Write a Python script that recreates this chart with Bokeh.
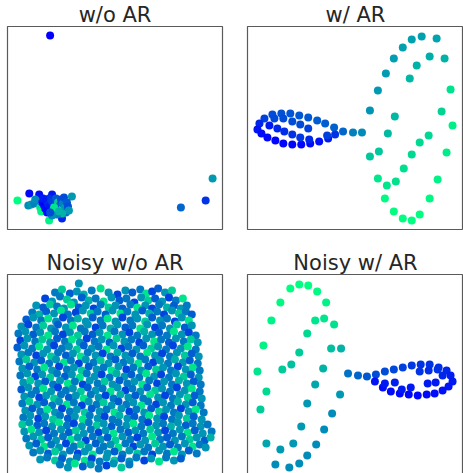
from bokeh.plotting import figure
from bokeh.layouts import row, column
from bokeh.models import Range1d, LinearColorMapper
from bokeh.embed import file_html
from bokeh.resources import INLINE

# ---------------- data (positions, y downwards) ----------------
titles = ["w/o AR", "w/ AR", "Noisy w/o AR", "Noisy w/ AR"]

# panel 1: w/o AR   (x, y, colour value 0..1)
wo_ar = [(50,35,0.0),(29,193,0.02),(39,194,0.05),(17,200,1.0),(52,194,0.1),(72,196,0.6),
         (182,207,0.4),(207,200,0.2),(214,178,0.6),(49,220,0.95),(62,218,0.15),
         (28,205,0.55),(31,204,0.6),(34,203,0.5),(35,199,0.55),(40,207,0.9),(41,211,0.95),
         (42,202,0.05),(44,205,0.0),(46,200,0.1),(45,208,0.05),(48,203,0.15),(49,198,0.2),
         (50,206,0.1),(52,201,0.25),(53,210,0.4),(55,204,0.3),(56,198,0.35),(57,208,0.45),
         (58,202,0.8),(60,205,0.35),(61,199,0.3),(62,209,0.85),(63,203,0.5),(64,197,0.3),
         (65,207,0.6),(66,212,0.45),(67,202,0.35),(68,206,0.3),(69,210,0.6),(62,213,0.7),
         (57,214,0.5),(52,215,0.55),(47,212,0.05),(54,207,0.9),(59,211,0.7),(43,198,0.1),(50,212,0.3)]

# panel 2: w/ AR
w_ar = [(265,118,0.25),(273,114,0.3),(282,113,0.32),(291,113,0.33),(300,115,0.34),(309,117,0.35),
        (318,120,0.36),(326,123,0.37),(335,127,0.38),(344,131,0.4),(354,132,0.5),(363,132,0.55),
        (260,123,0.15),(258,129,0.08),(262,133,0.05),(268,137,0.03),(276,140,0.02),(284,143,0.02),
        (293,144,0.02),(302,144,0.03),(311,143,0.04),(320,141,0.06),(329,138,0.1),(336,134,0.2),
        (275,118,0.28),(284,118,0.3),(293,121,0.3),(301,124,0.3),(309,128,0.25),(270,125,0.1),
        (278,128,0.15),(285,131,0.18),(293,134,0.2),(301,137,0.22),(310,139,0.15),(328,135,0.25),
        (371,110,0.58),(379,90,0.6),(387,73,0.61),(395,58,0.62),(404,47,0.63),(413,39,0.63),
        (423,36,0.63),(438,38,0.64),(431,56,0.68),(446,58,0.7),(418,65,0.7),(411,78,0.72),
        (452,89,0.88),(396,116,0.72),(443,111,0.83),(454,125,0.94),(389,133,0.73),(430,135,0.84),
        (421,142,0.85),(413,154,0.85),(380,151,0.78),(371,156,0.78),(448,152,0.93),(405,168,0.87),
        (379,178,0.9),(388,185,0.9),(397,181,0.88),(439,179,0.95),(386,198,0.98),(431,198,0.97),
        (395,211,0.99),(404,218,1.0),(413,220,1.0),(421,214,0.99)]

# panel 3: Noisy w/o AR  (x, y, colour level 0..9)
noisy_wo_ar = [
 (79,282,6),(55,291,5),(62,288,8),(70,292,4),(77,290,6),(84,293,7),(92,289,5),(101,287,9),(109,291,6),(118,293,3),(126,289,6),(133,291,4),(141,288,5),(147,292,9),(153,290,3),(159,287,4),(166,291,6),(173,289,8),
 (45,297,3),(52,300,6),(60,295,5),(67,298,8),(74,301,6),(82,296,4),(89,299,7),(96,297,5),(104,300,9),(112,296,6),(120,299,4),(127,297,5),(135,301,3),(142,296,6),(149,299,8),(156,297,4),(163,300,6),(170,296,3),(177,299,5),(184,297,9),
 (36,304,6),(43,306,4),(50,303,8),(57,305,5),(64,307,6),(71,303,9),(79,306,4),(86,304,6),(94,307,3),(101,303,5),(109,306,8),(116,304,6),(123,307,4),(131,303,5),(138,306,9),(146,304,6),(153,307,3),(160,303,5),(168,306,7),(175,304,4),(182,307,6),(188,304,5),
 (32,311,5),(39,313,7),(46,310,4),(54,312,6),(61,309,9),(68,313,5),(76,311,3),(83,309,6),(91,312,8),(98,310,5),(106,313,4),(113,309,6),(121,312,9),(128,310,5),(136,313,6),(143,309,4),(150,312,7),(158,310,5),(165,313,3),(173,309,6),(180,312,8),(187,310,5),(193,313,4),
 (26,318,4),(33,316,6),(41,319,5),(48,317,9),(56,320,6),(63,316,3),(71,319,5),(78,317,7),(86,320,6),(93,316,4),(101,319,5),(108,317,9),(116,320,6),(123,316,3),(131,319,5),(138,317,6),(146,320,8),(153,316,4),(161,319,6),(168,317,5),(176,320,3),(183,316,6),(190,319,9),
 (21,325,6),(28,323,3),(36,326,5),(43,324,8),(51,327,6),(58,323,4),(66,326,6),(73,324,9),(81,327,5),(88,323,6),(96,326,3),(103,324,5),(111,327,7),(118,323,6),(126,326,4),(133,324,5),(141,327,9),(148,323,6),(156,326,3),(163,324,5),(171,327,6),(178,323,8),(186,326,4),(193,324,6),
 (18,332,5),(25,330,6),(33,333,4),(40,331,6),(48,334,9),(55,330,5),(63,333,3),(70,331,6),(78,334,8),(85,330,5),(93,333,4),(100,331,6),(108,334,9),(115,330,5),(123,333,6),(130,331,3),(138,334,5),(145,330,7),(153,333,6),(160,331,4),(168,334,5),(175,330,9),(183,333,6),(190,331,3),(197,334,5),
 (20,339,3),(27,337,6),(35,340,5),(42,338,8),(50,341,6),(57,337,4),(65,340,5),(72,338,9),(80,341,6),(87,337,3),(95,340,5),(102,338,6),(110,341,4),(117,337,8),(125,340,6),(132,338,5),(140,341,3),(147,337,6),(155,340,9),(162,338,5),(170,341,4),(177,337,6),(185,340,5),(192,338,8),(199,341,6),
 (17,346,4),(24,344,6),(32,347,5),(39,345,9),(47,348,6),(54,344,3),(62,347,5),(69,345,6),(77,348,8),(84,344,4),(92,347,6),(99,345,5),(107,348,9),(114,344,6),(122,347,3),(129,345,5),(137,348,6),(144,344,4),(152,347,8),(159,345,6),(167,348,5),(174,344,3),(182,347,6),(189,345,9),(197,348,5),
 (21,353,6),(28,351,5),(36,354,3),(43,352,6),(51,355,8),(58,351,5),(66,354,4),(73,352,6),(81,355,9),(88,351,5),(96,354,6),(103,352,3),(111,355,5),(118,351,7),(126,354,6),(133,352,4),(141,355,5),(148,351,9),(156,354,6),(163,352,3),(171,355,5),(178,351,6),(186,354,8),(193,352,4),(200,355,6),
 (19,360,5),(26,358,8),(34,361,6),(41,359,4),(49,362,5),(56,358,6),(64,361,9),(71,359,5),(79,362,3),(86,358,6),(94,361,5),(101,359,8),(109,362,6),(116,358,4),(124,361,5),(131,359,6),(139,362,9),(146,358,5),(154,361,3),(161,359,6),(169,362,5),(176,358,7),(184,361,6),(191,359,4),(199,362,5),
 (22,367,6),(29,365,4),(37,368,5),(44,366,9),(52,369,6),(59,365,3),(67,368,5),(74,366,6),(82,369,8),(89,365,4),(97,368,6),(104,366,5),(112,369,9),(119,365,6),(127,368,3),(134,366,5),(142,369,6),(149,365,4),(157,368,8),(164,366,6),(172,369,5),(179,365,3),(187,368,6),(194,366,9),(201,369,5),
 (20,374,5),(27,372,6),(35,375,3),(42,373,6),(50,376,8),(57,372,5),(65,375,4),(72,373,6),(80,376,9),(87,372,5),(95,375,6),(102,373,3),(110,376,5),(117,372,7),(125,375,6),(132,373,4),(140,376,5),(147,372,9),(155,375,6),(162,373,3),(170,376,5),(177,372,6),(185,375,8),(192,373,4),(200,376,6),
 (23,381,6),(30,379,8),(38,382,6),(45,380,4),(53,383,5),(60,379,6),(68,382,9),(75,380,5),(83,383,3),(90,379,6),(98,382,5),(105,380,8),(113,383,6),(120,379,4),(128,382,5),(135,380,6),(143,383,9),(150,379,5),(158,382,3),(165,380,6),(173,383,5),(180,379,7),(188,382,6),(195,380,4),(202,383,5),
 (21,388,4),(28,386,6),(36,389,5),(43,387,9),(51,390,6),(58,386,3),(66,389,5),(73,387,6),(81,390,8),(88,386,4),(96,389,6),(103,387,5),(111,390,9),(118,386,6),(126,389,3),(133,387,5),(141,390,6),(148,386,4),(156,389,8),(163,387,6),(171,390,5),(178,386,3),(186,389,6),(193,387,9),(201,390,5),
 (24,395,6),(31,393,5),(39,396,3),(46,394,6),(54,397,8),(61,393,5),(69,396,4),(76,394,6),(84,397,9),(91,393,5),(99,396,6),(106,394,3),(114,397,5),(121,393,7),(129,396,6),(136,394,4),(144,397,5),(151,393,9),(159,396,6),(166,394,3),(174,397,5),(181,393,6),(189,396,8),(196,394,4),(203,397,6),
 (22,402,5),(29,400,8),(37,403,6),(44,401,4),(52,404,5),(59,400,6),(67,403,9),(74,401,5),(82,404,3),(89,400,6),(97,403,5),(104,401,8),(112,404,6),(119,400,4),(127,403,5),(134,401,6),(142,404,9),(149,400,5),(157,403,3),(164,401,6),(172,404,5),(179,400,7),(187,403,6),(194,401,4),(202,404,5),
 (25,409,6),(32,407,4),(40,410,5),(47,408,9),(55,411,6),(62,407,3),(70,410,5),(77,408,6),(85,411,8),(92,407,4),(100,410,6),(107,408,5),(115,411,9),(122,407,6),(130,410,3),(137,408,5),(145,411,6),(152,407,4),(160,410,8),(167,408,6),(175,411,5),(182,407,3),(190,410,6),(197,408,9),(205,411,5),
 (23,416,5),(30,414,6),(38,417,3),(45,415,6),(53,418,8),(60,414,5),(68,417,4),(75,415,6),(83,418,9),(90,414,5),(98,417,6),(105,415,3),(113,418,5),(120,414,7),(128,417,6),(135,415,4),(143,418,5),(150,414,9),(158,417,6),(165,415,3),(173,418,5),(180,414,6),(188,417,8),(195,415,4),(203,418,6),
 (22,423,8),(29,421,6),(37,424,4),(44,422,5),(52,425,6),(59,421,9),(67,424,5),(74,422,3),(82,425,6),(89,421,5),(97,424,8),(104,422,6),(112,425,4),(119,421,5),(127,424,6),(134,422,9),(142,425,5),(149,421,3),(157,424,6),(164,422,5),(172,425,7),(179,421,6),(187,424,4),(194,422,5),(202,425,6),(209,423,5),
 (24,430,6),(31,428,9),(39,431,6),(46,429,3),(54,432,5),(61,428,6),(69,431,4),(76,429,8),(84,432,6),(91,428,5),(99,431,3),(106,429,6),(114,432,9),(121,428,5),(129,431,4),(136,429,6),(144,432,5),(151,428,8),(159,431,6),(166,429,3),(174,432,5),(181,428,6),(189,431,9),(196,429,4),(204,432,6),(213,430,5),
 (26,437,5),(33,435,6),(41,438,8),(48,436,4),(56,439,6),(63,435,5),(71,438,9),(78,436,6),(86,439,3),(93,435,5),(101,438,6),(108,436,4),(116,439,8),(123,435,6),(131,438,5),(138,436,3),(146,439,6),(153,435,9),(161,438,5),(168,436,4),(176,439,6),(183,435,5),(191,438,8),(198,436,6),(206,439,4),(212,436,7),
 (29,444,6),(36,442,4),(44,445,9),(51,443,5),(59,446,6),(66,442,3),(74,445,5),(81,443,8),(89,446,6),(96,442,4),(104,445,5),(111,443,6),(119,446,9),(126,442,5),(134,445,3),(141,443,6),(149,446,5),(156,442,8),(164,445,6),(171,443,4),(179,446,5),(186,442,6),(194,445,9),(201,443,5),(207,446,6),
 (33,451,5),(40,449,6),(48,452,4),(55,450,8),(63,453,6),(70,449,5),(78,452,3),(85,450,6),(93,453,9),(100,449,5),(108,452,6),(115,450,4),(123,453,5),(130,449,6),(138,452,8),(145,450,5),(153,453,3),(160,449,6),(168,452,5),(175,450,9),(183,453,6),(190,449,4),(198,452,5),
 (40,458,6),(47,456,5),(55,459,8),(62,457,4),(70,460,6),(77,456,5),(85,459,9),(92,457,3),(100,460,5),(107,456,6),(115,459,8),(122,457,4),(130,460,6),(137,456,5),(145,459,3),(152,457,6),(160,460,9),(167,456,5),(175,459,6),(182,457,4),
 (60,463,5),(68,466,6),(75,462,9),(83,465,4),(91,463,6),(99,467,5),(107,464,3),(114,462,6),(122,466,8),(130,463,5),
]

# panel 4: Noisy w/ AR
noisy_w_ar = [(349,372,0.45),(359,374,0.4),(368,375,0.35),(377,373,0.3),(386,370,0.3),(395,368,0.28),
              (404,366,0.25),(413,364,0.22),(422,363,0.2),(431,363,0.2),(440,366,0.18),(448,369,0.15),
              (452,374,0.12),(454,380,0.1),(450,385,0.08),(444,389,0.06),(436,392,0.05),(428,393,0.03),
              (419,394,0.02),(410,393,0.02),(401,392,0.03),(392,390,0.04),(384,386,0.05),(376,380,0.08),
              (386,382,0.1),(396,381,0.12),(403,388,0.1),(412,386,0.1),(421,370,0.2),(430,369,0.18),
              (439,368,0.2),(444,374,0.15),(429,382,0.1),(437,381,0.1),
              (300,283,1.0),(309,284,1.0),(291,287,1.0),(318,290,0.98),(281,301,0.97),(327,301,0.95),
              (316,319,0.9),(325,317,0.9),(335,323,0.88),(272,319,0.95),(308,332,0.85),(264,344,0.95),
              (332,347,0.75),(342,347,0.7),(300,351,0.8),(292,363,0.75),(283,368,0.8),(324,367,0.7),
              (258,370,0.9),(316,383,0.65),(341,393,0.6),(267,390,0.85),(308,402,0.6),(261,408,0.8),
              (333,412,0.55),(302,425,0.6),(325,428,0.55),(267,442,0.65),(281,448,0.6),(294,442,0.6),
              (317,443,0.55),(308,454,0.55),(276,463,0.55),(290,466,0.55),(300,462,0.55)]

# ---------------- styling ----------------
WINTER = ["#%02x%02x%02x" % (0, i, int(round(255 - i / 2))) for i in range(256)]
FONT = "DejaVu Sans"
TEXT_COLOR = "#262626"
EDGE = "#5a5a5a"


def panel(title, pts, crange, xr, yr, borders):
    bl, br, bt, bb = borders
    p = figure(frame_width=217, frame_height=203, x_range=Range1d(*xr), y_range=Range1d(*yr),
               x_axis_type=None, y_axis_type=None, title=title, toolbar_location=None,
               output_backend="svg", min_border_left=bl, min_border_right=br,
               min_border_top=bt, min_border_bottom=bb)
    p.title.align = "center"
    p.title.text_font = FONT
    p.title.text_font_size = "21px"
    p.title.text_font_style = "normal"
    p.title.text_color = TEXT_COLOR
    p.title.standoff = 0
    p.title.offset = 0
    p.grid.visible = False
    p.outline_line_color = EDGE
    p.outline_line_width = 1.2
    p.background_fill_color = "white"
    p.border_fill_color = "white"
    mapper = LinearColorMapper(palette=WINTER, low=crange[0], high=crange[1])
    data = dict(x=[q[0] for q in pts], y=[q[1] for q in pts], c=[q[2] for q in pts])
    p.scatter("x", "y", source=data, size=8, line_color=None,
              fill_color={"field": "c", "transform": mapper})
    return p


pA = panel(titles[0], wo_ar, (0, 1), (7, 224), (229, 26), (7, 12, 26, 19))
pB = panel(titles[1], w_ar, (0, 1), (248, 465), (229, 26), (12, 0, 26, 19))
pC = panel(titles[2], noisy_wo_ar, (0.5, 10), (7, 224), (476, 273), (7, 12, 25, 0))
pD = panel(titles[3], noisy_w_ar, (0, 1), (248, 465), (476, 273), (12, 0, 25, 0))

root = column(row(pA, pB), row(pC, pD), width=463, height=473, styles={"overflow": "hidden"})
open("out.html", "w").write(file_html(root, INLINE))
